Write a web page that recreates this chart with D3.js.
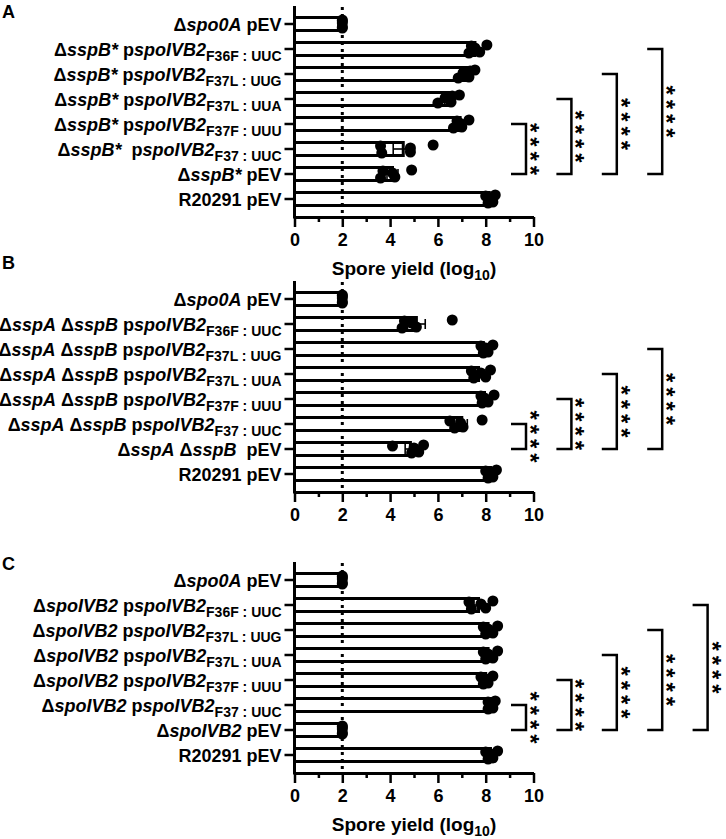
<!DOCTYPE html>
<html>
<head>
<meta charset="utf-8">
<script src="https://cdn.jsdelivr.net/npm/d3@7"></script>
<style>
  html, body { margin: 0; padding: 0; background: #fff; }
  svg { display: block; }
  text { font-family: "Liberation Sans", Arial, Helvetica, sans-serif; font-weight: bold; fill: #000; white-space: pre; }
</style>
</head>
<body>
<svg id="chart" width="726" height="839"></svg>
<script>
// ---------------- DATA ----------------
// label markup: ~italic~, text after '|' is subscript
const categoriesA = [
  "Δ~spo0A~ pEV",
  "Δ~sspB*~ p~spoIVB2~|F36F : UUC",
  "Δ~sspB*~ p~spoIVB2~|F37L : UUG",
  "Δ~sspB*~ p~spoIVB2~|F37L : UUA",
  "Δ~sspB*~ p~spoIVB2~|F37F : UUU",
  "Δ~sspB*~  p~spoIVB2~|F37 : UUC",
  "Δ~sspB*~ pEV",
  "R20291 pEV"
];
const meansA = [2.0, 7.55, 7.2, 6.45, 6.93, 4.55, 4.1, 8.15];
const semA   = [0, 0.13, 0.13, 0.16, 0.12, 0.42, 0.23, 0.07];
const dotsA = [
  [2.0, 2.0, 2.0, 2.0, 2.0],
  [8.05, 7.75, 7.55, 7.3, 7.4],
  [7.55, 7.3, 7.05, 6.85, 7.35],
  [6.9, 6.55, 6.3, 6.0, 6.6],
  [7.3, 7.0, 6.9, 6.65, 6.8],
  [5.8, 4.85, 4.85, 3.65, 3.6],
  [4.9, 4.2, 4.1, 3.6, 3.7],
  [8.4, 8.3, 8.2, 8.1, 8.0]
];
const comparisonsA = [[4, 6], [3, 6], [2, 6], [1, 6]];

const categoriesB = [
  "Δ~spo0A~ pEV",
  "Δ~sspA~ Δ~sspB~ p~spoIVB2~|F36F : UUC",
  "Δ~sspA~ Δ~sspB~ p~spoIVB2~|F37L : UUG",
  "Δ~sspA~ Δ~sspB~ p~spoIVB2~|F37L : UUA",
  "Δ~sspA~ Δ~sspB~ p~spoIVB2~|F37F : UUU",
  "Δ~sspA~ Δ~sspB~ p~spoIVB2~|F37 : UUC",
  "Δ~sspA~ Δ~sspB~  pEV",
  "R20291 pEV"
];
const meansB = [2.0, 5.1, 7.9, 7.7, 7.95, 7.0, 4.85, 8.2];
const semB   = [0, 0.37, 0.09, 0.15, 0.1, 0.23, 0.22, 0.08];
const dotsB = [
  [2.0, 2.0, 2.0, 2.0, 2.0],
  [6.6, 5.1, 4.9, 4.5, 4.6],
  [8.3, 8.1, 8.0, 7.9, 7.8],
  [8.2, 8.0, 7.8, 7.5, 7.4],
  [8.35, 8.1, 7.95, 7.85, 7.8],
  [7.85, 7.05, 6.95, 6.7, 6.5],
  [5.4, 5.2, 5.0, 4.9, 4.1],
  [8.45, 8.3, 8.2, 8.1, 8.0]
];
const comparisonsB = [[5, 6], [4, 6], [3, 6], [2, 6]];

const categoriesC = [
  "Δ~spo0A~ pEV",
  "Δ~spoIVB2~ p~spoIVB2~|F36F : UUC",
  "Δ~spoIVB2~ p~spoIVB2~|F37L : UUG",
  "Δ~spoIVB2~ p~spoIVB2~|F37L : UUA",
  "Δ~spoIVB2~ p~spoIVB2~|F37F : UUU",
  "Δ~spoIVB2~ p~spoIVB2~|F37 : UUC",
  "Δ~spoIVB2~ pEV",
  "R20291 pEV"
];
const meansC = [2.0, 7.7, 8.1, 8.1, 8.0, 8.2, 2.0, 8.2];
const semC   = [0, 0.19, 0.11, 0.11, 0.09, 0.06, 0, 0.09];
const dotsC = [
  [2.0, 2.0, 2.0, 2.0, 2.0],
  [8.3, 8.0, 7.8, 7.4, 7.3],
  [8.5, 8.3, 8.1, 8.0, 7.9],
  [8.5, 8.3, 8.1, 8.0, 7.9],
  [8.3, 8.1, 8.0, 7.9, 7.8],
  [8.4, 8.3, 8.2, 8.1, 8.1],
  [2.0, 2.0, 2.0, 2.0, 2.0],
  [8.5, 8.3, 8.2, 8.1, 8.0]
];
const comparisonsC = [[5, 6], [4, 6], [3, 6], [2, 6], [1, 6]];

const xTicks = [0, 2, 4, 6, 8, 10];
const xMinorTicks = [1, 3, 5, 7, 9];
const limitOfDetection = 2;
const sigLabel = "****";
const axisTitle = "Spore yield (log";
const axisTitleSub = "10";

// ---------------- LAYOUT ----------------
const svg = d3.select("#chart");
const x = d3.scaleLinear().domain([0, 10]).range([294.5, 533.5]);
const jitter = [-4, 3, -1, 4, -3];

const panels = [
  { letter: "A", oy: 0,   letterY: 18,  cats: categoriesA, means: meansA, sem: semA, dots: dotsA, comps: comparisonsA, title: true },
  { letter: "B", oy: 275, letterY: 269, cats: categoriesB, means: meansB, sem: semB, dots: dotsB, comps: comparisonsB, title: false },
  { letter: "C", oy: 556, letterY: 570, cats: categoriesC, means: meansC, sem: semC, dots: dotsC, comps: comparisonsC, title: true }
];

function richLabel(sel, markup) {
  const [main, sub] = markup.split("|");
  main.split("~").forEach((part, i) => {
    if (!part) return;
    sel.append("tspan").attr("font-style", i % 2 ? "italic" : "normal").text(part);
  });
  if (sub) {
    sel.append("tspan").attr("font-size", 14).attr("dy", 5).text(sub);
  }
}

panels.forEach(p => {
  const g = svg.append("g");
  const top = p.oy + 6, base = p.oy + 217;
  const y = d3.scaleBand().domain(p.cats).range([top, base]).paddingInner(0).paddingOuter(0.22);
  const cy = d => y(d) + y.bandwidth() / 2;

  // panel letter
  g.append("text").attr("x", 2).attr("y", p.letterY).attr("font-size", 18).text(p.letter);

  // bars
  const barH = 13;
  g.selectAll("rect.bar").data(p.cats).join("rect")
    .attr("class", "bar")
    .attr("x", x(0))
    .attr("y", d => cy(d) - barH / 2)
    .attr("width", (d, i) => x(p.means[i]) - x(0))
    .attr("height", barH)
    .attr("fill", "#fff").attr("stroke", "#000").attr("stroke-width", 3);

  // limit of detection
  g.append("line")
    .attr("x1", x(limitOfDetection)).attr("x2", x(limitOfDetection))
    .attr("y1", top + 1).attr("y2", base)
    .attr("stroke", "#000").attr("stroke-width", 3).attr("stroke-dasharray", "3,4");

  // error bars
  p.cats.forEach((c, i) => {
    if (!p.sem[i]) return;
    const lo = x(p.means[i] - p.sem[i]), hi = x(p.means[i] + p.sem[i]), yy = cy(c);
    g.append("line").attr("x1", lo).attr("x2", hi).attr("y1", yy).attr("y2", yy)
      .attr("stroke", "#000").attr("stroke-width", 1.6);
    [lo, hi].forEach(xx => g.append("line").attr("x1", xx).attr("x2", xx)
      .attr("y1", yy - 5).attr("y2", yy + 5).attr("stroke", "#000").attr("stroke-width", 1.6));
  });

  // dots
  p.cats.forEach((c, i) => {
    g.selectAll(null).data(p.dots[i]).join("circle")
      .attr("cx", d => x(d))
      .attr("cy", (d, j) => cy(c) + jitter[j % jitter.length])
      .attr("r", 5.5)
      .attr("fill", "#000");
  });

  // y axis
  const yAxis = g.append("g").attr("transform", `translate(${x(0)},0)`)
    .call(d3.axisLeft(y).tickSize(10).tickSizeOuter(0).tickFormat(""));
  yAxis.select(".domain").remove();
  yAxis.selectAll(".tick line").attr("stroke-width", 2.5);
  g.append("line").attr("x1", x(0)).attr("x2", x(0)).attr("y1", top).attr("y2", base + 1.5)
    .attr("stroke", "#000").attr("stroke-width", 3);

  // y labels
  p.cats.forEach(c => {
    const t = g.append("text")
      .attr("x", x(0) - 13).attr("y", cy(c) + 6.5)
      .attr("text-anchor", "end").attr("font-size", 18);
    richLabel(t, c);
  });

  // x axis
  const xAxis = g.append("g").attr("transform", `translate(0,${base})`)
    .call(d3.axisBottom(x).tickValues(xTicks).tickSize(10).tickSizeOuter(0).tickPadding(6));
  xAxis.select(".domain").attr("stroke-width", 3);
  xAxis.selectAll(".tick line").attr("stroke-width", 2.5);
  xAxis.selectAll(".tick text").attr("font-size", 18)
    .style("font-family", '"Liberation Sans", Arial, sans-serif').style("font-weight", "bold");
  const xMinor = g.append("g").attr("transform", `translate(0,${base})`)
    .call(d3.axisBottom(x).tickValues(xMinorTicks).tickSize(5).tickFormat(""));
  xMinor.select(".domain").remove();
  xMinor.selectAll(".tick line").attr("stroke-width", 2.5);

  // axis title
  if (p.title) {
    const t = g.append("text").attr("x", (x(0) + x(10)) / 2).attr("y", p.oy + 275)
      .attr("text-anchor", "middle").attr("font-size", 19);
    t.append("tspan").text(axisTitle);
    t.append("tspan").attr("font-size", 14).attr("dy", 5).text(axisTitleSub);
    t.append("tspan").attr("dy", -5).text(")");
  }

  // significance brackets
  p.comps.forEach((cmp, k) => {
    const vx = 526 + k * 45.4;
    const y1 = cy(p.cats[cmp[0]]), y2 = cy(p.cats[cmp[1]]);
    g.append("path")
      .attr("d", `M${vx - 15},${y1}H${vx}V${y2}H${vx - 15}`)
      .attr("fill", "none").attr("stroke", "#000").attr("stroke-width", 2.5);
    const mid = (y1 + y2) / 2;
    const fs = 24;
    g.append("text")
      .attr("transform", `translate(${vx + 9.5 - 0.56 * fs},${mid + 2.5}) rotate(90)`)
      .attr("text-anchor", "middle")
      .attr("font-size", fs)
      .attr("letter-spacing", 4.9)
      .text(sigLabel);
  });
});
</script>
</body>
</html>
